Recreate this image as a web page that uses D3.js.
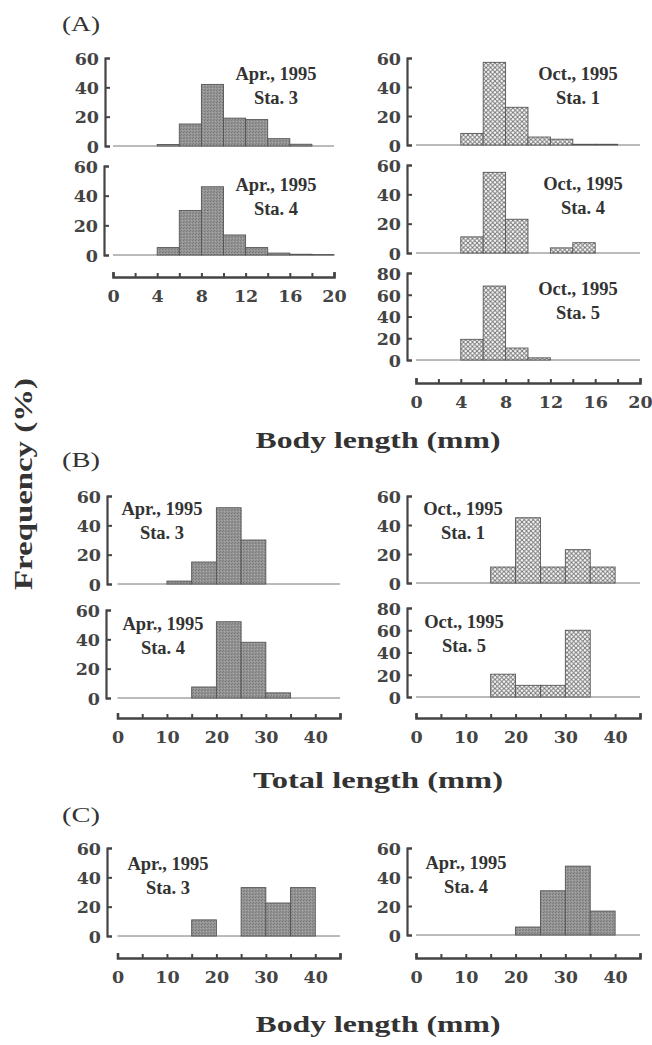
<!DOCTYPE html>
<html>
<head>
<meta charset="utf-8">
<script src="https://cdn.jsdelivr.net/npm/d3@7"></script>
<style>
  body { margin: 0; background: #fff; }
  svg { display: block; }
  .tick text { font-family: "DejaVu Serif", serif; font-weight: bold; fill: #444; }
  .lbl { font-family: "Liberation Serif", "Times New Roman", serif; font-weight: bold; fill: #333; }
</style>
</head>
<body>
<svg width="652" height="1045"></svg>
<script>
// bins (lower edges) and frequencies (%)
const binsA = [0, 2, 4, 6, 8, 10, 12, 14, 16, 18]
const aprSta3A = [0, 0, 1, 15, 42, 19, 18, 5, 1.2, 0]
const aprSta4A = [0, 0, 5, 30, 46, 13.5, 5, 1.3, 0.5, 0.3]
const octSta1A = [0, 0, 8, 57, 26, 5.5, 4, 0.5, 0.5, 0]
const octSta4A = [0, 0, 11, 55, 23, 0, 3.5, 7, 0, 0]
const octSta5A = [0, 0, 19, 68, 11, 2, 0, 0, 0, 0]

const binsBC = [0, 5, 10, 15, 20, 25, 30, 35, 40]
const aprSta3B = [0, 0, 2, 15, 52, 30, 0, 0, 0]
const aprSta4B = [0, 0, 0, 7.5, 52, 38, 3.5, 0, 0]
const octSta1B = [0, 0, 0, 11, 45, 11, 23, 11, 0]
const octSta5B = [0, 0, 0, 20.5, 10.5, 10.5, 60, 0, 0]
const aprSta3C = [0, 0, 0, 11, 0, 33, 22.5, 33, 0]
const aprSta4C = [0, 0, 0, 0, 5.5, 30.5, 47.5, 16.5, 0]

const yTicks60 = [0, 20, 40, 60]
const yTicks80 = [0, 20, 40, 60, 80]
const xTicksA = [0, 4, 8, 12, 16, 20]
const xTicksBC = [0, 10, 20, 30, 40]

const svg = d3.select('svg')
const defs = svg.append('defs')

const hatch = defs.append('pattern')
  .attr('id', 'hatch')
  .attr('patternUnits', 'userSpaceOnUse')
  .attr('width', 4.5).attr('height', 4.5)
hatch.append('rect').attr('width', 4.5).attr('height', 4.5).attr('fill', '#fff')
hatch.append('path').attr('d', 'M0,0L4.5,4.5M4.5,0L0,4.5')
  .attr('stroke', '#777').attr('stroke-width', 1)

const stip = defs.append('pattern')
  .attr('id', 'stip')
  .attr('patternUnits', 'userSpaceOnUse')
  .attr('width', 3).attr('height', 3)
stip.append('rect').attr('width', 3).attr('height', 3).attr('fill', '#949494')
stip.append('rect').attr('x', 0).attr('y', 0).attr('width', 1).attr('height', 1).attr('fill', '#777')
stip.append('rect').attr('x', 2).attr('y', 1).attr('width', 1).attr('height', 1).attr('fill', '#a8a8a8')
stip.append('rect').attr('x', 1).attr('y', 2).attr('width', 1).attr('height', 1).attr('fill', '#7e7e7e')

// one histogram
function hist ({ bins, values, width, xr, yr, yMax, yTicks, axisX, fill, title, tx, ty }) {
  const xMax = bins[bins.length - 1] + width
  const x = d3.scaleLinear().domain([0, xMax]).range(xr)
  const y = d3.scaleLinear().domain([0, yMax]).range(yr)

  svg.append('line')
    .attr('x1', x(0)).attr('x2', x(xMax))
    .attr('y1', y(0)).attr('y2', y(0))
    .attr('stroke', '#777').attr('stroke-width', 1)

  svg.append('g').selectAll('rect')
    .data(bins.map((b, i) => ({ b, v: values[i] })).filter(d => d.v > 0))
    .join('rect')
    .attr('x', d => x(d.b))
    .attr('width', d => x(d.b + width) - x(d.b))
    .attr('y', d => y(d.v))
    .attr('height', d => y(0) - y(d.v))
    .attr('fill', fill === 'hatch' ? 'url(#hatch)' : 'url(#stip)')
    .attr('stroke', '#555').attr('stroke-width', 0.9)

  const ax = svg.append('g')
    .attr('transform', `translate(${axisX},0)`)
    .call(d3.axisLeft(y).tickValues(yTicks).tickSizeInner(-5).tickSizeOuter(-5).tickPadding(6))
  ax.select('.domain').attr('stroke', '#444').attr('stroke-width', 2.2)
  ax.selectAll('.tick line').attr('stroke', '#444').attr('stroke-width', 2)
  ax.selectAll('.tick text').style('font-size', '17.5px').attr('dy', '0.36em')

  svg.append('text').attr('class', 'lbl')
    .attr('x', tx).attr('y', ty).attr('text-anchor', 'middle')
    .style('font-size', '18.5px').text(title[0])
  svg.append('text').attr('class', 'lbl')
    .attr('x', tx).attr('y', ty + 24).attr('text-anchor', 'middle')
    .style('font-size', '18.5px').text(title[1])
}

function xAxis ({ xMax, step, labels, xr, yPos }) {
  const x = d3.scaleLinear().domain([0, xMax]).range(xr)
  const ax = svg.append('g')
    .attr('transform', `translate(0,${yPos})`)
    .call(d3.axisBottom(x).tickValues(d3.range(0, xMax + step / 2, step))
      .tickSizeInner(-4).tickSizeOuter(-5).tickPadding(13)
      .tickFormat(d => labels.includes(d) ? d : ''))
  ax.select('.domain').attr('stroke', '#444').attr('stroke-width', 2.6)
  ax.selectAll('.tick line').attr('stroke', '#444').attr('stroke-width', 2)
  ax.selectAll('.tick text').style('font-size', '17.5px')
}

// (A)
hist({ bins: binsA, values: aprSta3A, width: 2, xr: [113, 334], yr: [146, 58], yMax: 60, yTicks: yTicks60, axisX: 105, fill: 'stip', title: ['Apr., 1995', 'Sta. 3'], tx: 276, ty: 80 })
hist({ bins: binsA, values: aprSta4A, width: 2, xr: [113, 334], yr: [255, 166], yMax: 60, yTicks: yTicks60, axisX: 104, fill: 'stip', title: ['Apr., 1995', 'Sta. 4'], tx: 276, ty: 191 })
xAxis({ xMax: 20, step: 2, labels: xTicksA, xr: [113, 334], yPos: 277 })

hist({ bins: binsA, values: octSta1A, width: 2, xr: [416, 640], yr: [145, 58], yMax: 60, yTicks: yTicks60, axisX: 407, fill: 'hatch', title: ['Oct., 1995', 'Sta. 1'], tx: 578, ty: 80 })
hist({ bins: binsA, values: octSta4A, width: 2, xr: [416, 640], yr: [253, 165], yMax: 60, yTicks: yTicks60, axisX: 407, fill: 'hatch', title: ['Oct., 1995', 'Sta. 4'], tx: 583, ty: 190 })
hist({ bins: binsA, values: octSta5A, width: 2, xr: [416, 640], yr: [360, 273], yMax: 80, yTicks: yTicks80, axisX: 407, fill: 'hatch', title: ['Oct., 1995', 'Sta. 5'], tx: 578, ty: 295 })
xAxis({ xMax: 20, step: 2, labels: xTicksA, xr: [416, 640], yPos: 383 })

// (B)
hist({ bins: binsBC, values: aprSta3B, width: 5, xr: [117.5, 340], yr: [584, 496], yMax: 60, yTicks: yTicks60, axisX: 107, fill: 'stip', title: ['Apr., 1995', 'Sta. 3'], tx: 162, ty: 515 })
hist({ bins: binsBC, values: aprSta4B, width: 5, xr: [117.5, 340], yr: [698, 610], yMax: 60, yTicks: yTicks60, axisX: 106, fill: 'stip', title: ['Apr., 1995', 'Sta. 4'], tx: 163, ty: 630 })
xAxis({ xMax: 45, step: 5, labels: xTicksBC, xr: [117.5, 340], yPos: 718 })

hist({ bins: binsBC, values: octSta1B, width: 5, xr: [416, 640], yr: [583, 496], yMax: 60, yTicks: yTicks60, axisX: 407, fill: 'hatch', title: ['Oct., 1995', 'Sta. 1'], tx: 463, ty: 515 })
hist({ bins: binsBC, values: octSta5B, width: 5, xr: [416, 640], yr: [697, 608], yMax: 80, yTicks: yTicks80, axisX: 407, fill: 'hatch', title: ['Oct., 1995', 'Sta. 5'], tx: 464, ty: 628 })
xAxis({ xMax: 45, step: 5, labels: xTicksBC, xr: [416, 640], yPos: 718 })

// (C)
hist({ bins: binsBC, values: aprSta3C, width: 5, xr: [117.5, 340], yr: [936, 848], yMax: 60, yTicks: yTicks60, axisX: 107, fill: 'stip', title: ['Apr., 1995', 'Sta. 3'], tx: 168, ty: 870 })
xAxis({ xMax: 45, step: 5, labels: xTicksBC, xr: [117.5, 340], yPos: 958 })
hist({ bins: binsBC, values: aprSta4C, width: 5, xr: [416, 640], yr: [935, 848], yMax: 60, yTicks: yTicks60, axisX: 407, fill: 'stip', title: ['Apr., 1995', 'Sta. 4'], tx: 466, ty: 869 })
xAxis({ xMax: 45, step: 5, labels: xTicksBC, xr: [416, 640], yPos: 958 })

// panel letters and axis titles
const letter = (t, yy) => svg.append('text').attr('class', 'lbl')
  .attr('x', 62).attr('y', yy).style('font-size', '22px').style('font-weight', 'normal')
  .attr('textLength', 38).attr('lengthAdjust', 'spacingAndGlyphs').text(t)
letter('(A)', 31)
letter('(B)', 467)
letter('(C)', 822)

const title = (t, yy, len) => svg.append('text').attr('class', 'lbl')
  .attr('x', 378).attr('y', yy).attr('text-anchor', 'middle').style('font-size', '24px')
  .attr('textLength', len).attr('lengthAdjust', 'spacingAndGlyphs').text(t)
title('Body length (mm)', 448, 245)
title('Total length (mm)', 788, 250)
title('Body length (mm)', 1032, 245)

svg.append('text').attr('class', 'lbl')
  .attr('transform', 'translate(32,484) rotate(-90)')
  .attr('text-anchor', 'middle').style('font-size', '26px')
  .attr('textLength', 212).attr('lengthAdjust', 'spacingAndGlyphs')
  .text('Frequency (%)')
</script>
</body>
</html>
